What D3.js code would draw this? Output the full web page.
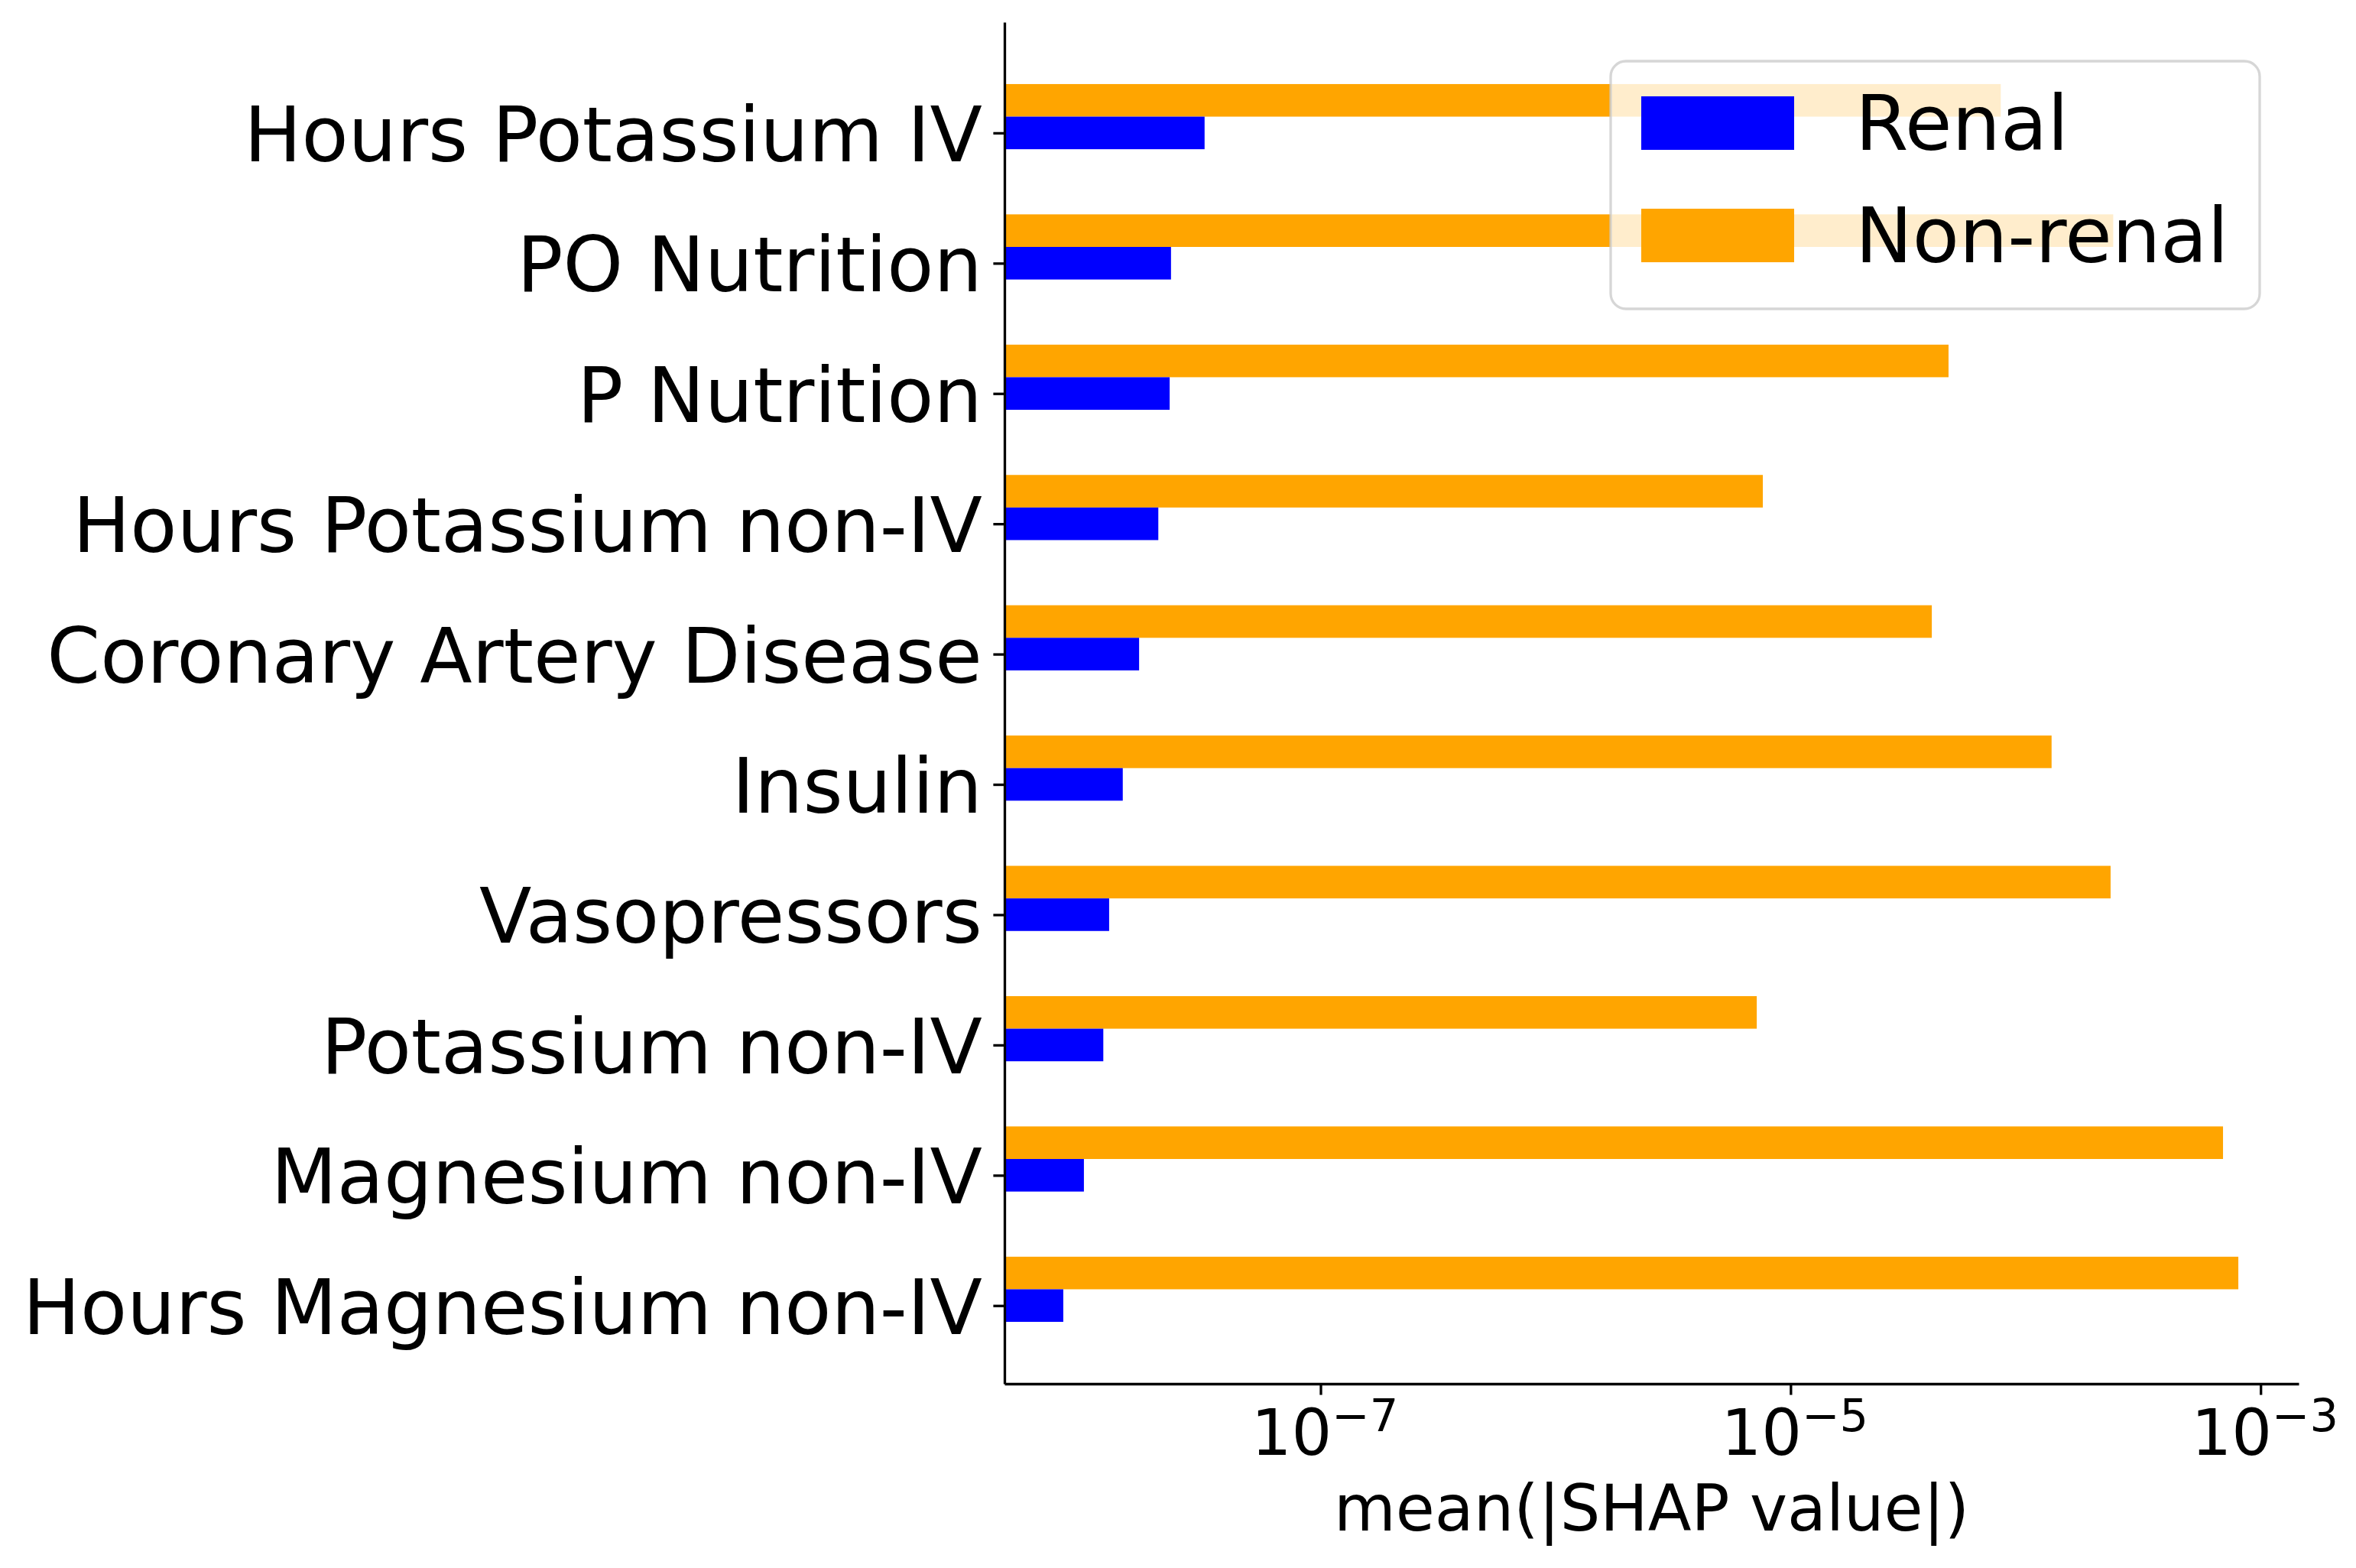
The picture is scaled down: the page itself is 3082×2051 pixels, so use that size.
<!DOCTYPE html>
<html>
<head>
<meta charset="utf-8">
<script src="https://cdn.jsdelivr.net/npm/d3@7"></script>
<style>
  body { margin: 0; background: white; }
  text { font-family: "DejaVu Sans", sans-serif; }
</style>
</head>
<body>
<div id="chart"></div>
<script>
// features, top to bottom
var features = ["Hours Potassium IV", "PO Nutrition", "P Nutrition", "Hours Potassium non-IV",
  "Coronary Artery Disease", "Insulin", "Vasopressors", "Potassium non-IV",
  "Magnesium non-IV", "Hours Magnesium non-IV"];
var renal = [3.21e-8, 2.31e-8, 2.28e-8, 2.04e-8, 1.69e-8, 1.44e-8, 1.26e-8, 1.19e-8, 9.84e-9, 8.04e-9];
var nonRenal = [7.84e-5, 2.36e-4, 4.70e-5, 7.62e-6, 3.99e-5, 1.29e-4, 2.30e-4, 7.18e-6, 6.92e-4, 8.04e-4];
var xTicks = [1e-7, 1e-5, 1e-3];
var xTickExp = ["\u22127", "\u22125", "\u22123"];
var seriesNames = ["Renal", "Non-renal"];
var seriesColors = ["#0000ff", "#ffa500"];

var margin = {top: 29, right: 75, bottom: 241, left: 1314},
  width = 3082 - margin.left - margin.right,
  height = 2051 - margin.top - margin.bottom;

var svg = d3.select("#chart")
  .append("svg")
  .attr("width", 3082)
  .attr("height", 2051)
  .append("g")
  .attr("transform", "translate(" + margin.left + "," + margin.top + ")");

var x = d3.scaleLog()
  .domain([Math.pow(10, -8.345), Math.pow(10, -2.838)])
  .range([0, width]);

// index scale: renal bar centred on tick, non-renal bar one bar-height above
var barH = 0.25;
var y = d3.scaleLinear()
  .domain([-0.85, 9.6])
  .range([0, height]);

var tickLen = 14.6, lw = 3.3;

// bars
svg.selectAll(".nonrenal")
  .data(nonRenal)
  .enter()
  .append("rect")
  .attr("x", 0)
  .attr("y", function(d, i) { return y(i - barH - barH / 2) })
  .attr("width", function(d) { return x(d) })
  .attr("height", y(barH) - y(0))
  .style("fill", seriesColors[1]);

svg.selectAll(".renal")
  .data(renal)
  .enter()
  .append("rect")
  .attr("x", 0)
  .attr("y", function(d, i) { return y(i - barH / 2) })
  .attr("width", function(d) { return x(d) })
  .attr("height", y(barH) - y(0))
  .style("fill", seriesColors[0]);

// y axis
var yAxis = svg.append("g")
  .call(d3.axisLeft(y)
    .tickValues(d3.range(features.length))
    .tickFormat(function(i) { return features[i] })
    .tickSize(tickLen)
    .tickSizeOuter(0)
    .tickPadding(14.6));
yAxis.selectAll("text")
  .attr("dy", "0.365em")
  .style("font-size", "100px")
  .style("fill", "black");
yAxis.selectAll("line").attr("stroke-width", lw);
yAxis.select(".domain").attr("stroke-width", lw);

// x axis
var xAxis = svg.append("g")
  .attr("transform", "translate(0," + height + ")")
  .call(d3.axisBottom(x)
    .tickValues(xTicks)
    .tickFormat("")
    .tickSize(tickLen)
    .tickSizeOuter(0));
xAxis.selectAll("line").attr("stroke-width", lw);
xAxis.select(".domain").attr("stroke-width", lw);

var lbl = xAxis.selectAll(".tick")
  .append("text")
  .attr("y", 93)
  .attr("x", 5)
  .attr("text-anchor", "middle")
  .style("fill", "black");
lbl.append("tspan")
  .style("font-size", "83px")
  .text("10");
lbl.append("tspan")
  .attr("dy", -31)
  .style("font-size", "59px")
  .text(function(d, i) { return xTickExp[i] });

svg.append("text")
  .attr("x", width / 2)
  .attr("y", height + 192)
  .attr("text-anchor", "middle")
  .style("font-size", "83px")
  .text("mean(|SHAP value|)");

// legend
var legend = svg.append("g")
  .attr("transform", "translate(" + (2107 - margin.left) + "," + (80 - margin.top) + ")");
legend.append("rect")
  .attr("width", 849)
  .attr("height", 324)
  .attr("rx", 20)
  .style("fill", "white")
  .style("fill-opacity", 0.8)
  .style("stroke", "#cccccc")
  .style("stroke-opacity", 0.8)
  .style("stroke-width", 3.3);

var items = legend.selectAll(".item")
  .data(seriesNames)
  .enter()
  .append("g")
  .attr("transform", function(d, i) { return "translate(40," + (46 + i * 147) + ")" });
items.append("rect")
  .attr("width", 200)
  .attr("height", 70)
  .style("fill", function(d, i) { return seriesColors[i] });
items.append("text")
  .attr("x", 280)
  .attr("y", 70)
  .style("font-size", "100px")
  .text(function(d) { return d });
</script>
</body>
</html>
